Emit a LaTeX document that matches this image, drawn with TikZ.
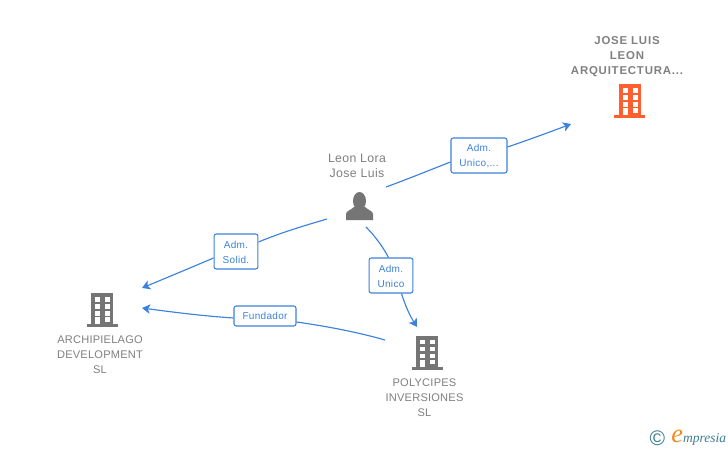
\documentclass[tikz,border=0pt]{standalone}
\usepackage{fontspec}
\setmainfont{Liberation Sans}
\newfontfamily\logofont{Liberation Serif}
\usetikzlibrary{arrows.meta,calc}
\definecolor{linkblue}{HTML}{3C82DC}
\definecolor{icongray}{HTML}{757575}
\definecolor{textgray}{HTML}{808080}
\definecolor{hotorange}{HTML}{FF5E31}
\definecolor{logoteal}{HTML}{3C7F91}
\definecolor{logoorange}{HTML}{F08A1E}
\tikzset{
  firmlabel/.style={text=textgray,align=center,font=\fontsize{6.3}{8.53}\selectfont\addfontfeature{LetterSpace=2},inner sep=0pt},
  personlabel/.style={text=textgray,align=center,font=\fontsize{7}{8.53}\selectfont\addfontfeature{LetterSpace=3},inner sep=0pt},
  hotlabel/.style={text=textgray,align=center,font=\fontsize{6.5}{8.53}\selectfont\bfseries\addfontfeature{LetterSpace=7},inner sep=0pt},
  role/.style={draw=linkblue,fill=white,rounded corners=1.3pt,line width=0.6pt,text=linkblue,align=center,
    font=\fontsize{5.7}{8.53}\selectfont\addfontfeature{LetterSpace=3},inner sep=0pt},
  tallrole/.style={role,minimum height=19.9pt,text height=13.2pt},
  link/.style={draw=linkblue,line width=0.65pt},
  arrowlink/.style={link,-{Stealth[length=4.6pt,width=5.4pt,inset=1.2pt]}},
  pics/building/.style={code={
    \fill[#1] (-11,-16.5) rectangle (11,15);
    \fill[#1] (-15.5,14.5) rectangle (15.5,17.5);
    \foreach \wy in {-12.5,-5.5,1.5}
      \foreach \wx in {-7,3}
        \fill[white] (\wx,\wy) rectangle ++(5,4.5);
    \fill[white] (-7,7.5) rectangle (-2,14.5);
    \fill[white] (3,7.5) rectangle (8,12);
  }}
}
\begin{document}
\begin{tikzpicture}[x=0.02cm,y=-0.02cm]
\useasboundingbox (0,0) rectangle (728,450);
\fill[white] (0,0) rectangle (728,450);

% icons
\pic at (629.5,100.5) {building=hotorange};
\pic at (102,309.5) {building=icongray};
\pic at (427,352) {building=icongray};
\fill[icongray] (346,220) -- (346,214) .. controls (346,211) and (351,210) .. (354,207)
  -- (365,207) .. controls (368,210) and (373,211) .. (373,214) -- (373,220) -- cycle;
\fill[icongray] (359.5,201) ellipse (6.5 and 9);

% labels
\node[hotlabel] (joseluis) at (627,57) {JOSE LUIS\\LEON\\ARQUITECTURA...};
\node[personlabel] (leonlora) at (357,166) {Leon Lora\\Jose Luis};
\node[firmlabel] (archipielago) at (100,355) {ARCHIPIELAGO\\DEVELOPMENT\\SL};
\node[firmlabel] (polycipes) at (424.5,398) {POLYCIPES\\INVERSIONES\\SL};

% roles
\node[tallrole,minimum width=31.9pt] (admunico1) at (479,155.5) {Adm.\\Unico,...};
\node[tallrole,minimum width=25pt] (admsolid) at (236,251.5) {Adm.\\Solid.};
\node[tallrole,minimum width=25pt] (admunico2) at (391,275.5) {Adm.\\Unico};
\node[role,minimum width=35.3pt,minimum height=11.4pt] (fundador) at (265,316) {Fundador};

% link ends
\coordinate (p1) at (386,187);
\coordinate (p2) at (327,219);
\coordinate (p3) at (366,227);
\coordinate (p4) at (385,340);
\coordinate (t1) at (571,124);
\coordinate (t2) at (142,288);
\coordinate (t3) at (417,327);
\coordinate (t4) at (142,308);

\draw[link] (p1) .. controls (408,179) and (430,170) .. (admunico1.west |- 0,162);
\draw[arrowlink] (admunico1.east |- 0,147) .. controls (528,140) and (550,132) .. (t1);
\draw[link] (p2) .. controls (303,226) and (280,233) .. (admsolid.east |- 0,242);
\draw[arrowlink] (admsolid.west |- 0,258) .. controls (190,268) and (166,278) .. (t2);
\draw[link] (p3) .. controls (375,236) and (383,247) .. (admunico2.north -| 388.5,0);
\draw[arrowlink] (admunico2.south -| 401.5,0) .. controls (405,305) and (410,316) .. (t3);
\draw[link] (p4) .. controls (357,332) and (325,326) .. (fundador.east |- 0,322);
\draw[arrowlink] (fundador.west |- 0,318) .. controls (203,316) and (172,312) .. (t4);

% logo
\node[text=logoteal,inner sep=0pt,font=\fontsize{12}{12}\selectfont] (copyright) at (657.5,438.5) {©};
\node[inner sep=0pt,anchor=west,text=logoteal,font=\logofont\itshape\fontsize{7.7}{9}\selectfont] (logo) at (671,438)
  {{\color{logoorange}\fontsize{15}{9}\selectfont e}mpresia};
\end{tikzpicture}
\end{document}
